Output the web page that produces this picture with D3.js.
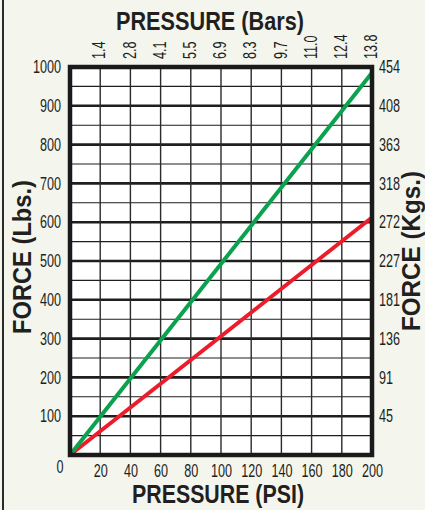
<!DOCTYPE html>
<html>
<head>
<meta charset="utf-8">
<script src="https://cdn.jsdelivr.net/npm/d3@7"></script>
<style>
  html, body { margin: 0; padding: 0; background: #f4f6ee; }
  svg { display: block; }
  .tick text, .lbl { font-family: "Liberation Sans", Arial, sans-serif; font-size: 18px; fill: #231f20; }
  .title { font-family: "Liberation Sans", Arial, sans-serif; font-weight: bold; font-size: 25px; fill: #231f20; }
</style>
</head>
<body>
<script>
// ---- data ----
const psiTicks = [20, 40, 60, 80, 100, 120, 140, 160, 180, 200];
const barLabels = ["1.4", "2.8", "4.1", "5.5", "6.9", "8.3", "9.7", "11.0", "12.4", "13.8"];
const forceTicks = [100, 200, 300, 400, 500, 600, 700, 800, 900, 1000];
const kgLabels = ["45", "91", "136", "181", "227", "272", "318", "363", "408", "454"];
const gridForce = [50, 100, 150, 200, 250, 300, 350, 400, 450, 500, 550, 600, 650, 700, 750, 800, 850, 900, 950];
const greenSeries = [{psi: 0, force: 0}, {psi: 200, force: 985}];
const redSeries = [{psi: 0, force: 0}, {psi: 200, force: 612}];

const W = 425, H = 510;
const svg = d3.select("body").append("svg").attr("width", W).attr("height", H);
svg.append("rect").attr("width", W).attr("height", H).attr("fill", "#f4f6ee");
// left edge rule
svg.append("line").attr("x1", 3).attr("x2", 3).attr("y1", 0).attr("y2", H)
  .attr("stroke", "#2a2a2a").attr("stroke-width", 2);

const x = d3.scaleLinear().domain([0, 200]).range([70, 372]);
const y = d3.scaleLinear().domain([0, 1000]).range([455, 67]);

function condense(sel, f) {
  sel.each(function () {
    const l = this.getComputedTextLength();
    this.setAttribute("textLength", (l * f).toFixed(2));
    this.setAttribute("lengthAdjust", "spacingAndGlyphs");
  });
}

// plot background
svg.append("rect").attr("x", x(0)).attr("y", y(1000))
  .attr("width", x(200) - x(0)).attr("height", y(0) - y(1000)).attr("fill", "#ffffff");

// grid
svg.append("g").selectAll("line").data(gridForce).join("line")
  .attr("x1", x(0)).attr("x2", x(200))
  .attr("y1", d => y(d)).attr("y2", d => y(d))
  .attr("stroke", "#1e1e1e")
  .attr("stroke-width", d => d % 100 === 0 ? 2.6 : 1.1);
svg.append("g").selectAll("line").data(psiTicks.filter(d => d < 200)).join("line")
  .attr("x1", d => x(d)).attr("x2", d => x(d))
  .attr("y1", y(0)).attr("y2", y(1000))
  .attr("stroke", "#2a2a2a").attr("stroke-width", 1.4);

// series
const line = d3.line().x(d => x(d.psi)).y(d => y(d.force));
svg.append("path").datum(redSeries).attr("d", line)
  .attr("fill", "none").attr("stroke", "#ec1c2a").attr("stroke-width", 4);
svg.append("path").datum(greenSeries).attr("d", line)
  .attr("fill", "none").attr("stroke", "#0aa24e").attr("stroke-width", 4);

// border
svg.append("rect").attr("x", x(0)).attr("y", y(1000))
  .attr("width", x(200) - x(0)).attr("height", y(0) - y(1000))
  .attr("fill", "none").attr("stroke", "#1a1a1a").attr("stroke-width", 4.5);

// axes
const leftAxis = svg.append("g").attr("transform", `translate(${x(0)},0)`)
  .call(d3.axisLeft(y).tickValues(forceTicks).tickFormat(d3.format("d")).tickSize(0).tickPadding(9));
leftAxis.select(".domain").remove();

const rightAxis = svg.append("g").attr("transform", `translate(${x(200)},0)`)
  .call(d3.axisRight(y).tickValues(forceTicks).tickFormat((d, i) => kgLabels[i]).tickSize(0).tickPadding(7));
rightAxis.select(".domain").remove();

const bottomAxis = svg.append("g").attr("transform", `translate(0,${y(0)})`)
  .call(d3.axisBottom(x).tickValues(psiTicks).tickFormat(d3.format("d")).tickSize(0).tickPadding(9));
bottomAxis.select(".domain").remove();

const topAxis = svg.append("g").attr("transform", `translate(0,${y(1000)})`)
  .call(d3.axisTop(x).tickValues(psiTicks).tickFormat((d, i) => barLabels[i]).tickSize(0));
topAxis.select(".domain").remove();
topAxis.selectAll(".tick text")
  .attr("transform", "rotate(-90)")
  .attr("x", 8).attr("y", -1).attr("dy", "0.32em")
  .attr("text-anchor", "start");

// zero label
svg.append("text").attr("class", "lbl")
  .attr("x", x(0) - 10).attr("y", y(0) + 18)
  .attr("text-anchor", "middle").text("0");

svg.selectAll(".tick text, .lbl").call(condense, 0.7);

// titles
svg.append("text").attr("class", "title").attr("x", 210).attr("y", 30)
  .attr("text-anchor", "middle").attr("textLength", 188).attr("lengthAdjust", "spacingAndGlyphs")
  .text("PRESSURE (Bars)");
svg.append("text").attr("class", "title").attr("x", 218).attr("y", 503)
  .attr("text-anchor", "middle").attr("textLength", 172).attr("lengthAdjust", "spacingAndGlyphs")
  .text("PRESSURE (PSI)");
svg.append("text").attr("class", "title")
  .attr("transform", "translate(31,257) rotate(-90)")
  .attr("text-anchor", "middle").attr("textLength", 154).attr("lengthAdjust", "spacingAndGlyphs")
  .text("FORCE (Lbs.)");
svg.append("text").attr("class", "title")
  .attr("transform", "translate(420,251) rotate(-90)")
  .attr("text-anchor", "middle").attr("textLength", 160).attr("lengthAdjust", "spacingAndGlyphs")
  .text("FORCE (Kgs.)");
</script>
</body>
</html>
